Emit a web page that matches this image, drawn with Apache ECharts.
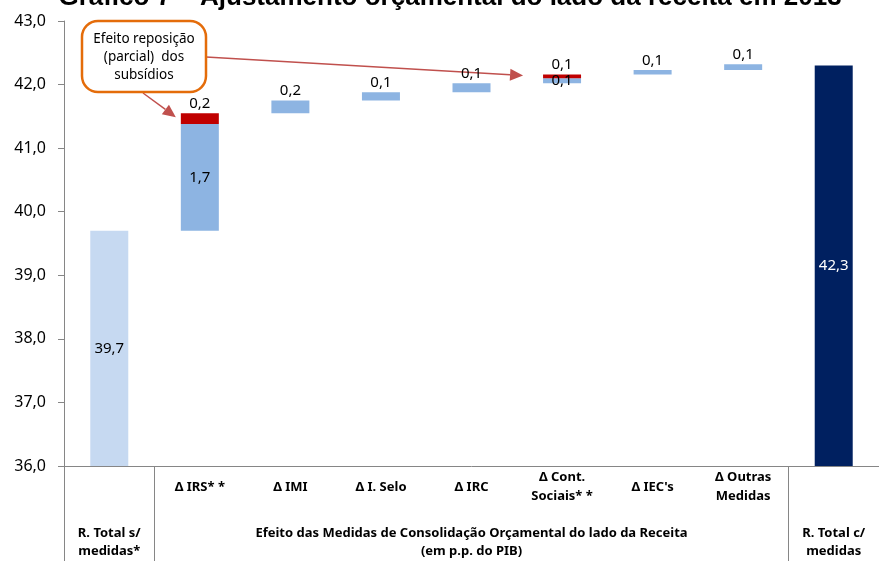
<!DOCTYPE html>
<html>
<head>
<meta charset="utf-8">
<script src="https://cdn.jsdelivr.net/npm/echarts@6/dist/echarts.min.js"></script>
<style>
  html, body { margin: 0; padding: 0; background: #fff; }
  #chart { width: 879px; height: 561px; }
</style>
</head>
<body>
<div id="chart"></div>
<script>
// Revenue consolidation waterfall, % of GDP
const categories = ['R. Total s/\nmedidas*', 'Δ IRS* *', 'Δ IMI', 'Δ I. Selo', 'Δ IRC',
  'Δ Cont.\nSociais* *', "Δ IEC's", 'Δ Outras\nMedidas', 'R. Total c/\nmedidas'];
const revenueBefore = 39.7;
const revenueAfter = 42.3;
// measure effects (one per middle category)
const measureEffect = [1.68, 0.20, 0.13, 0.14, 0.08, 0.07, 0.09];
// partial reinstatement of subsidies (IRS and social contributions)
const subsidyEffect = [0.17, null, null, null, 0.06, null, null];
const yTicks = { min: 36, max: 43, step: 1 };
const groupLabels = ['R. Total s/\nmedidas*',
  'Efeito das Medidas de Consolidação Orçamental do lado da Receita\n(em p.p. do PIB)',
  'R. Total c/\nmedidas'];
const calloutText = 'Efeito reposição\n(parcial)  dos\nsubsídios';
const titleText = 'Gráfico 7 – Ajustamento orçamental do lado da receita em 2013';

const fmt = v => Number(v).toFixed(1).replace('.', ',');
const FONT = '"Noto Sans", "Open Sans", sans-serif';

// build the stacked series from the arrays
const baseData = ['-'];
const blueData = ['-'];
const redData = ['-'];
let running = revenueBefore;
measureEffect.forEach((m, i) => {
  baseData.push(running);
  const inside = (i === 0 || subsidyEffect[i] != null);
  blueData.push({ value: m, label: inside ? { position: 'inside' } : {} });
  redData.push(subsidyEffect[i] == null ? '-' : subsidyEffect[i]);
  running += m + (subsidyEffect[i] || 0);
});
baseData.push('-'); blueData.push('-'); redData.push('-');
const totalData = categories.map(() => '-');
totalData[0] = { value: revenueBefore, itemStyle: { color: '#C6D9F1' } };
totalData[categories.length - 1] = { value: revenueAfter, itemStyle: { color: '#002060' }, label: { color: '#fff' } };

const BAR_W = 38;
const labelStyle = { fontFamily: FONT, fontSize: 15, color: '#000' };

const chart = echarts.init(document.getElementById('chart'));
chart.setOption({
  animation: false,
  grid: { left: 64, top: 21, width: 825, height: 445 },
  xAxis: [{
    type: 'category',
    data: categories,
    axisLine: { lineStyle: { color: '#868686', width: 1 } },
    axisTick: { interval: 0, length: 49, lineStyle: { color: '#868686' } },
    axisLabel: {
      interval: 0, margin: 21, verticalAlign: 'middle', lineHeight: 19,
      fontFamily: FONT, fontSize: 13, fontWeight: 'bold', color: '#000',
      formatter: (v, i) => (i === 0 || i === categories.length - 1) ? '' : v
    }
  }, {
    type: 'value', min: 0, max: categories.length, position: 'bottom',
    axisLine: { show: false },
    splitLine: { show: false },
    axisTick: { show: true, customValues: [0, 1, categories.length - 1, categories.length], length: 95,
      lineStyle: { color: '#868686' } },
    axisLabel: {
      customValues: [0.5, (categories.length) / 2, categories.length - 0.5],
      margin: 76, verticalAlign: 'middle', lineHeight: 18, align: 'center',
      fontFamily: FONT, fontSize: 13, fontWeight: 'bold', color: '#000',
      formatter: v => v < 1 ? groupLabels[0] : (v > categories.length - 1 ? groupLabels[2] : groupLabels[1])
    }
  }],
  yAxis: {
    type: 'value', min: yTicks.min, max: yTicks.max, interval: yTicks.step,
    axisLine: { show: true, lineStyle: { color: '#868686' } },
    axisTick: { show: true, length: 6, lineStyle: { color: '#868686' } },
    splitLine: { show: false },
    axisLabel: { margin: 18, fontFamily: FONT, fontSize: 16, color: '#000', formatter: v => fmt(v) }
  },
  series: [
    { name: 'base', type: 'bar', stack: 'wf', barWidth: BAR_W, silent: true,
      itemStyle: { color: 'rgba(0,0,0,0)' }, data: baseData },
    { name: 'total', type: 'bar', stack: 'wf', barWidth: BAR_W,
      label: Object.assign({ show: true, position: 'inside', formatter: p => fmt(p.value) }, labelStyle),
      data: totalData },
    { name: 'medidas', type: 'bar', stack: 'wf', barWidth: BAR_W,
      itemStyle: { color: '#8DB4E2' },
      label: Object.assign({ show: true, position: 'top', distance: 2, formatter: p => fmt(p.value) }, labelStyle),
      data: blueData },
    { name: 'subsídios', type: 'bar', stack: 'wf', barWidth: BAR_W,
      itemStyle: { color: '#C00000' },
      label: Object.assign({ show: true, position: 'top', distance: 2, formatter: p => fmt(p.value) }, labelStyle),
      data: redData }
  ]
});

// callout box and arrows pointing to the subsidy segments
function arrow(x1, y1, x2, y2) {
  const ang = Math.atan2(y2 - y1, x2 - x1);
  const L = 13, W = 6;
  const bx = x2 - L * Math.cos(ang), by = y2 - L * Math.sin(ang);
  const px = -Math.sin(ang) * W, py = Math.cos(ang) * W;
  return [
    { type: 'line', shape: { x1: x1, y1: y1, x2: bx, y2: by }, style: { stroke: '#C0504D', lineWidth: 1.5 } },
    { type: 'polygon', shape: { points: [[x2, y2], [bx + px, by + py], [bx - px, by - py]] }, style: { fill: '#C0504D' } }
  ];
}
const redIdx = subsidyEffect.map((v, i) => v == null ? -1 : i).filter(i => i >= 0);
const tops = redIdx.map(i => {
  let s = revenueBefore;
  for (let k = 0; k <= i; k++) s += measureEffect[k] + (subsidyEffect[k] || 0);
  return chart.convertToPixel({ gridIndex: 0 }, [i + 1, s]);
});
const box = { x: 82, y: 21, w: 124, h: 71 };
chart.setOption({
  graphic: [
    { type: 'text', x: 450, y: 11, z: 10,
      style: { text: titleText, font: 'bold 26px "Liberation Sans", Arial, sans-serif', fill: '#000',
        textAlign: 'center', textVerticalAlign: 'bottom' } },
    ...arrow(box.x + box.w, box.y + 36, tops[1][0] - BAR_W / 2 - 20, tops[1][1] + 1),
    ...arrow(box.x + 61, box.y + box.h + 1, tops[0][0] - BAR_W / 2 - 5, tops[0][1] + 4),
    { type: 'rect', shape: { x: box.x, y: box.y, width: box.w, height: box.h, r: 16 }, z: 20,
      style: { fill: '#fff', stroke: '#E46C0A', lineWidth: 2.5 } },
    { type: 'text', x: box.x + box.w / 2, y: box.y + box.h / 2 + 1, z: 21,
      style: { text: calloutText, font: '13.5px ' + FONT, fill: '#000', lineHeight: 18,
        textAlign: 'center', textVerticalAlign: 'middle' } }
  ]
});
</script>
</body>
</html>
